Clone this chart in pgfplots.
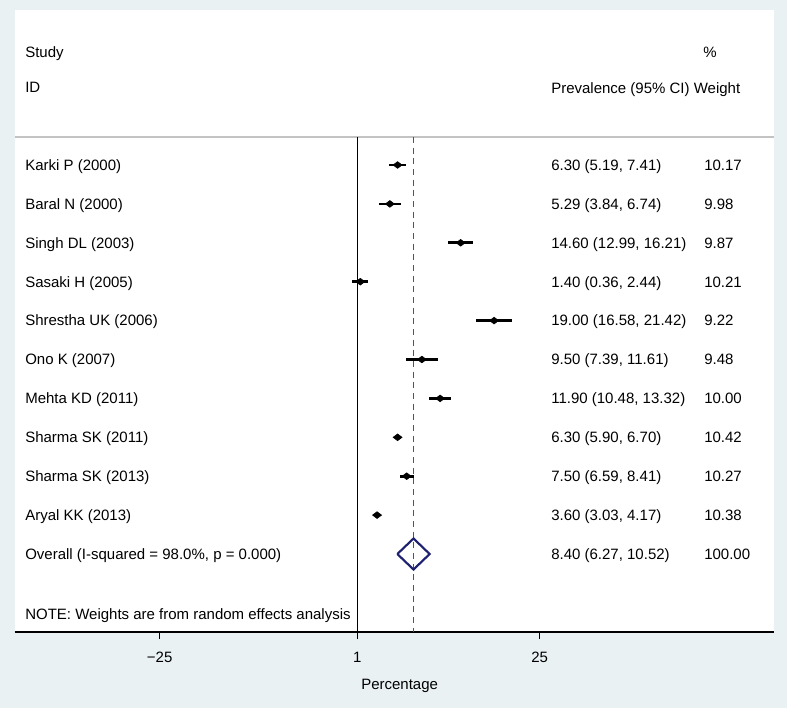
\documentclass[border=0pt]{standalone}
\usepackage{fontspec}
\setmainfont{Liberation Sans}
\usepackage{pgfplots}
\usepackage{pgfplotstable}
\pgfplotsset{compat=1.18}

\definecolor{stbg}{RGB}{234,241,243}
\definecolor{stnavy}{RGB}{30,32,112}
\definecolor{stmaroon}{RGB}{160,50,60}
\definecolor{hdrgray}{RGB}{195,195,195}

% one row per study: estimate, 95% CI, printed CI text, weight
\pgfplotstableread[col sep=semicolon]{
study;est;lo;hi;ci;w
Karki P (2000);6.30;5.19;7.41;6.30 (5.19, 7.41);10.17
Baral N (2000);5.29;3.84;6.74;5.29 (3.84, 6.74);9.98
Singh DL (2003);14.60;12.99;16.21;14.60 (12.99, 16.21);9.87
Sasaki H (2005);1.40;0.36;2.44;1.40 (0.36, 2.44);10.21
Shrestha UK (2006);19.00;16.58;21.42;19.00 (16.58, 21.42);9.22
Ono K (2007);9.50;7.39;11.61;9.50 (7.39, 11.61);9.48
Mehta KD (2011);11.90;10.48;13.32;11.90 (10.48, 13.32);10.00
Sharma SK (2011);6.30;5.90;6.70;6.30 (5.90, 6.70);10.42
Sharma SK (2013);7.50;6.59;8.41;7.50 (6.59, 8.41);10.27
Aryal KK (2013);3.60;3.03;4.17;3.60 (3.03, 4.17);10.38
}\studies

\begin{document}
\begin{tikzpicture}[font=\fontsize{11.25}{13.5}\selectfont]
\fill[stbg] (0,0) rectangle (590.25pt,531pt);
\begin{axis}[
  at={(11pt,57pt)}, anchor=south west,
  scale only axis, width=569.5pt, height=466.5pt,
  xmin=-44.08, xmax=55.83, ymin=-632, ymax=-10,
  axis x line*=bottom, axis y line=none,
  x axis line style={black, line width=0.9pt, -},
  axis background/.style={fill=white},
  clip=false,
  xtick={-25,1,25}, xticklabels={−25,1,25},
  ytick=\empty,
  tick align=outside, major tick length=5.25pt,
  tick style={black, line width=0.6pt},
  xticklabel style={anchor=base, yshift=-17.6pt},
  xlabel={Percentage},
  xlabel style={at={(axis description cs:0.507,0)}, anchor=base, yshift=-42.75pt},
  every node near coord/.append style={anchor=base west, inner sep=0pt, yshift=-4pt, black},
]
% header rule and reference lines
\addplot[hdrgray, line width=1pt] coordinates {(-44.08,-137) (55.83,-137)};
\addplot[black, line width=0.7pt] coordinates {(1,-137) (1,-632)};
\addplot[stmaroon, line width=0.9pt, dash pattern=on 4.5pt off 3.5pt] coordinates {(8.40,-137) (8.40,-632)};

% study estimates with CIs
\addplot[black, only marks, mark=diamond*, mark size=3.4pt, mark options={rotate=90, fill=black},
  error bars/.cd, x dir=both, x explicit, error mark=none,
  error bar style={line width=2pt, black}]
  table[x=est, y expr=-(165+38.9*\coordindex),
        x error plus expr=\thisrow{hi}-\thisrow{est},
        x error minus expr=\thisrow{est}-\thisrow{lo}] {\studies};

% overall diamond
\addplot[stnavy, line width=1.6pt] coordinates {(6.27,-554) (8.40,-538.5) (10.52,-554) (8.40,-569.5) (6.27,-554)};

% text columns
\addplot[draw=none, mark=none, nodes near coords, point meta=explicit symbolic]
  table[x expr=-42.72, y expr=-(165+38.9*\coordindex), meta=study] {\studies};
\addplot[draw=none, mark=none, nodes near coords, point meta=explicit symbolic]
  table[x expr=26.49, y expr=-(165+38.9*\coordindex), meta=ci] {\studies};
\addplot[draw=none, mark=none, nodes near coords, point meta=explicit symbolic]
  table[x expr=46.62, y expr=-(165+38.9*\coordindex), meta=w] {\studies};

\node[anchor=base west, inner sep=0pt, yshift=-4pt] at (axis cs:-42.72,-52) {Study};
\node[anchor=base west, inner sep=0pt, yshift=-4pt] at (axis cs:-42.72,-87.5) {ID};
\node[anchor=base west, inner sep=0pt, yshift=-4pt] at (axis cs:46.5,-52) {\%};
\node[anchor=base west, inner sep=0pt, yshift=-4pt] at (axis cs:26.49,-88) {Prevalence (95\% CI) Weight};
\node[anchor=base west, inner sep=0pt, yshift=-4pt] at (axis cs:-42.72,-554) {Overall (I-squared = 98.0\%, p = 0.000)};
\node[anchor=base west, inner sep=0pt, yshift=-4pt] at (axis cs:26.49,-554) {8.40 (6.27, 10.52)};
\node[anchor=base west, inner sep=0pt, yshift=-4pt] at (axis cs:46.62,-554) {100.00};
\node[anchor=base west, inner sep=0pt, yshift=-4pt] at (axis cs:-42.72,-614) {NOTE: Weights are from random effects analysis};
\end{axis}
\end{tikzpicture}
\end{document}
